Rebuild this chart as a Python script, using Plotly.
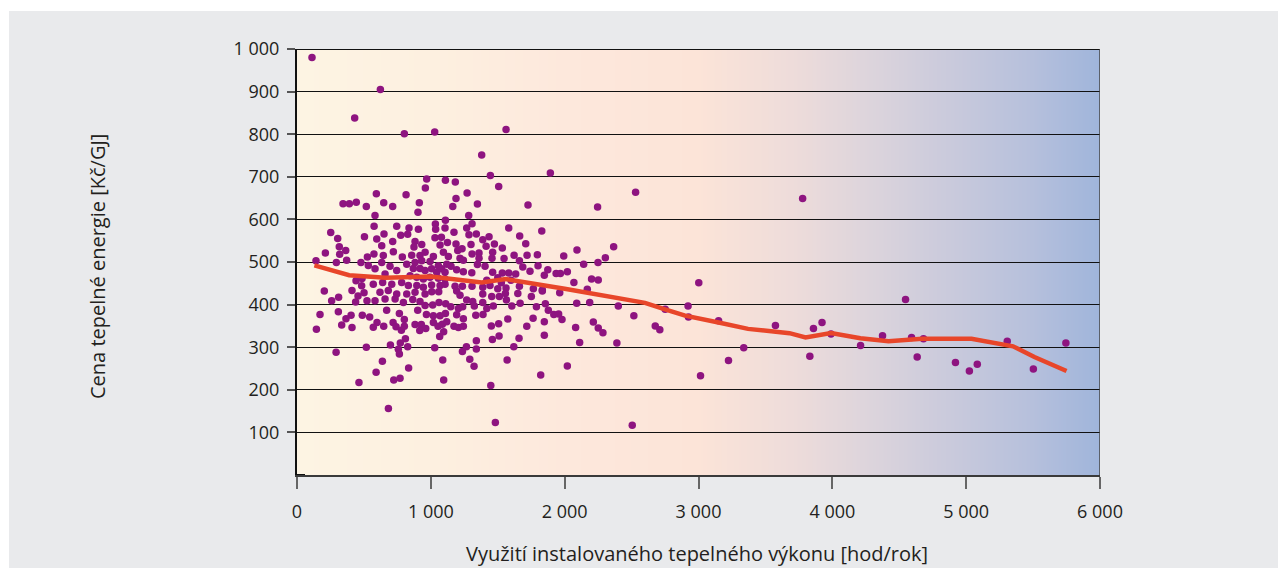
import base64, struct, zlib
import plotly.graph_objects as go

# ---------------- data ----------------
x_points = [
    112, 623, 431, 802, 1029,
    1562, 1380, 1445, 1893, 1109, 1183, 1507, 1271, 1188, 1348, 1164, 1726, 1283, 1109, 1034, 1308, 1036, 1106, 1268, 1582,
    1829, 1173, 1285, 1340, 1388, 1435, 1664, 1188, 1300, 1413, 1475, 1534, 1709, 1201, 1233, 1308, 1360, 1462, 1622, 1719,
    1796, 1218, 1243, 1360, 1457, 1547, 1662, 1151, 1348, 1405, 1687, 1801, 1741, 1874, 1848, 1936, 1582, 1634, 1534, 1462,
    1306, 1243, 1193, 1500, 1418, 1527, 1599, 1662, 1766, 1833, 1181, 1236, 1308, 1388, 1442, 1500, 1562,
    1007, 1059, 1193, 1388, 1455, 1512, 1557, 1650, 1751, 1833, 1218, 1268, 1313, 1388, 1565, 1014, 1061, 1111, 1149, 1206,
    1238, 1325, 1467, 1605, 1667, 1789, 1856, 1418, 1878, 1919, 1019, 1069, 1109, 1193, 1243, 1336, 1390, 1575, 1764, 1848,
    1019, 1054, 1086, 1119, 1173, 1206, 1243, 1452, 1507, 1717, 1096, 1066, 1340, 1460, 1510, 1659, 1848, 1029, 1266, 1340,
    1236, 1620, 1089, 1291, 1570, 1323, 1821, 1096, 1448, 1482,
    969, 959, 593, 815, 344, 391, 443, 648, 518, 715, 914, 904, 583, 576, 745, 837, 907,
    252, 304, 504, 316, 364, 319, 212, 142, 371, 526, 294, 478, 533, 441, 486, 204, 483, 411, 456, 501, 311, 259, 438, 523,
    650, 596, 633, 715, 775, 827, 882, 874, 932, 1031, 1079, 1069, 1124, 575, 645, 720, 787, 857, 919, 957, 1019, 1094, 1131,
    633, 695, 820, 882, 932, 994, 1056, 1119, 583, 658, 745, 869, 919, 957, 1006, 1044, 1081, 1106, 845, 895, 944, 994, 1056,
    1106, 570, 640, 708, 782, 832, 895, 944, 1006, 1069, 1106, 620, 682, 745, 820, 882, 957, 583, 658, 733, 795, 865, 919, 957, 670,
    172, 309, 404, 488, 366, 334, 411, 145, 543, 598, 570, 648, 718, 740, 780, 802, 802, 765, 902, 882, 929, 917, 962, 967,
    810, 772, 292, 518, 698, 757, 765, 827, 638, 591, 834, 463, 723, 770, 683,
    2530, 2246, 1993, 2092, 2366, 2304, 2249, 2142, 1968, 2020, 2069, 2201, 2251, 2169, 1963, 3002, 2090, 2187, 2401, 2751,
    2922, 2925, 1955, 1980, 2214, 2082, 2251, 2286, 2517, 2677, 2711, 2112, 2390, 2020, 3015, 2505,
    3778, 3150, 3224, 3338, 3575, 3859, 3923, 3832, 3990, 4211, 4375, 4547, 4592, 4634, 4681, 4920, 5024, 5083, 5307, 5502, 5745,
]
y_points = [
    980, 905, 838, 801, 805,
    811, 751, 703, 709, 692, 688, 677, 662, 649, 636, 630, 634, 609, 598, 589, 590, 577, 580, 580, 580,
    573, 570, 564, 566, 552, 559, 561, 542, 541, 537, 542, 533, 543, 527, 531, 519, 521, 523, 516, 516,
    517, 509, 504, 509, 509, 508, 503, 490, 494, 490, 488, 491, 478, 482, 469, 473, 474, 472, 474, 476,
    475, 477, 482, 463, 457, 451, 457, 443, 437, 434, 443, 443, 443, 441, 445, 437, 439,
    430, 430, 432, 425, 419, 419, 426, 426, 419, 432, 422, 411, 407, 405, 411, 399, 405, 402, 395, 391,
    395, 397, 397, 397, 403, 395, 402, 391, 387, 377, 374, 374, 379, 376, 367, 375, 377, 366, 368, 360,
    358, 349, 354, 360, 349, 346, 349, 350, 355, 349, 336, 325, 315, 318, 326, 321, 328, 299, 301, 296,
    290, 301, 270, 272, 270, 255, 235, 223, 210, 123,
    695, 674, 660, 658, 637, 637, 640, 639, 630, 630, 639, 617, 609, 584, 584, 580, 577,
    569, 555, 559, 536, 527, 518, 521, 503, 504, 512, 499, 499, 492, 456, 461, 432, 444, 433, 420, 428, 417, 409, 406, 409,
    566, 554, 538, 548, 563, 565, 548, 535, 541, 557, 558, 540, 546, 519, 515, 524, 512, 516, 515, 523, 513, 523, 513,
    499, 490, 495, 499, 503, 501, 491, 495, 484, 472, 480, 485, 485, 480, 484, 476, 484, 476, 468, 464, 460, 464, 462,
    460, 448, 452, 448, 452, 445, 445, 441, 446, 445, 448, 429, 433, 425, 425, 429, 425, 409, 413, 413, 405, 412, 407, 398, 387,
    377, 383, 375, 375, 367, 352, 346, 342, 371, 358, 347, 349, 358, 348, 340, 349, 365, 379, 387, 353, 353, 339, 344, 377,
    320, 310, 288, 300, 305, 295, 284, 301, 267, 241, 251, 217, 223, 227, 156,
    664, 629, 514, 528, 536, 510, 499, 495, 473, 477, 452, 460, 458, 436, 428, 451, 403, 405, 397, 389,
    397, 371, 378, 365, 359, 346, 345, 334, 374, 350, 341, 311, 310, 256, 233, 117,
    649, 362, 269, 299, 351, 344, 358, 279, 331, 304, 327, 412, 323, 277, 320, 264, 244, 260, 314, 249, 310,
]

trend_x = [130, 390, 660, 1000, 1380, 1560, 2000, 2600, 2750, 2900, 3150, 3370, 3680, 3800, 3990,
           4210, 4420, 4670, 5040, 5350, 5510, 5750]
trend_y = [492, 469, 463, 466, 452, 460, 437, 404, 389, 374, 358, 343, 333, 323, 333,
           321, 314, 320, 320, 302, 277, 244]

x_tick_vals = [0, 1000, 2000, 3000, 4000, 5000, 6000]
x_tick_text = ["0", "1 000", "2 000", "3 000", "4 000", "5 000", "6 000"]
y_tick_vals = [100, 200, 300, 400, 500, 600, 700, 800, 900, 1000]
y_tick_text = ["100", "200", "300", "400", "500", "600", "700", "800", "900", "1 000"]

x_title = "Využití instalovaného tepelného výkonu [hod/rok]"
y_title = "Cena tepelné energie [Kč/GJ]"

# background gradient stops (x value, rgb)
grad_stops = [
    (0, (253, 244, 227)), (1000, (253, 240, 224)), (2000, (253, 232, 220)),
    (3000, (252, 228, 216)), (3700, (238, 220, 218)), (4300, (220, 212, 220)),
    (5000, (198, 200, 220)), (5500, (182, 192, 220)), (6000, (160, 181, 219)),
]

# ---------------- gradient image ----------------
def make_png(width):
    row = bytearray()
    for i in range(width):
        xv = 6000 * i / (width - 1)
        for k in range(len(grad_stops) - 1):
            x0, c0 = grad_stops[k]
            x1, c1 = grad_stops[k + 1]
            if x0 <= xv <= x1:
                t = (xv - x0) / (x1 - x0)
                row += bytes(int(round(c0[j] + (c1[j] - c0[j]) * t)) for j in range(3))
                break
    raw = b"\x00" + bytes(row)

    def chunk(tag, data):
        c = struct.pack(">I", len(data)) + tag + data
        return c + struct.pack(">I", zlib.crc32(tag + data) & 0xFFFFFFFF)

    png = b"\x89PNG\r\n\x1a\n"
    png += chunk(b"IHDR", struct.pack(">IIBBBBB", width, 1, 8, 2, 0, 0, 0))
    png += chunk(b"IDAT", zlib.compress(raw, 9))
    png += chunk(b"IEND", b"")
    return "data:image/png;base64," + base64.b64encode(png).decode()

grad_src = make_png(600)

FONT = "Open Sans"
TXT = "#231f20"

fig = go.Figure()
fig.add_trace(go.Scatter(
    x=x_points, y=y_points, mode="markers",
    marker=dict(size=7.5, color="#8e1480", line=dict(width=0)),
    hoverinfo="x+y", showlegend=False,
))
fig.add_trace(go.Scatter(
    x=trend_x, y=trend_y, mode="lines",
    line=dict(color="#e8462a", width=4.5),
    showlegend=False,
))

# page body has an 8px margin; figure is 1279x572 so it fits the window
OFF = 8
FW, FH = 1287 - OFF, 580 - OFF
# plot area on screen: x 297..1100 px, y 49..475 px
L, R = 297 - OFF, FW - (1100 - OFF)
T, B = 49 - OFF, FH - (475 - OFF)
pw, ph = FW - L - R, FH - T - B

def px_to_paper_x(px):
    return (px - OFF - L) / pw

def py_to_paper_y(py):
    return (FH - B - (py - OFF)) / ph

shapes = [
    dict(type="rect", xref="paper", yref="paper",
         x0=px_to_paper_x(9), x1=px_to_paper_x(1278),
         y0=py_to_paper_y(568), y1=py_to_paper_y(11),
         fillcolor="#e9eaec", line=dict(width=0), layer="below"),
    dict(type="line", xref="x", yref="y", x0=0, x1=6000, y0=1000, y1=1000,
         line=dict(color="#111111", width=2), layer="above"),
    dict(type="line", xref="x", yref="y", x0=6000, x1=6000, y0=0, y1=1000,
         line=dict(color="#444444", width=1.5), layer="above"),
    dict(type="line", xref="x", yref="y", x0=0, x1=60, y0=0, y1=0,
         line=dict(color="#111111", width=2), layer="above"),
]

fig.update_layout(
    width=FW, height=FH,
    margin=dict(l=L, r=R, t=T, b=B, pad=0),
    paper_bgcolor="white",
    plot_bgcolor="rgba(0,0,0,0)",
    font=dict(family=FONT, size=18, color=TXT),
    images=[dict(source=grad_src, xref="x", yref="y", x=0, y=1000,
                 sizex=6000, sizey=1000, sizing="stretch",
                 xanchor="left", yanchor="top", layer="below")],
    shapes=shapes,
    xaxis=dict(
        range=[0, 6000], tickvals=x_tick_vals, ticktext=x_tick_text,
        showgrid=False, zeroline=False,
        showline=True, linecolor="#3a3a3a", linewidth=2,
        ticks="outside", ticklen=12, tickwidth=1.5, tickcolor="#666666",
        ticklabelstandoff=7,
        tickfont=dict(family=FONT, size=18, color=TXT),
        fixedrange=True,
    ),
    yaxis=dict(
        range=[0, 1000], tickvals=y_tick_vals, ticktext=y_tick_text,
        showgrid=True, gridcolor="#111111", gridwidth=1,
        zeroline=False,
        showline=True, linecolor="#111111", linewidth=2,
        ticks="outside", ticklen=8, tickwidth=1.5, tickcolor="#555555",
        ticklabelstandoff=4,
        tickfont=dict(family=FONT, size=18, color=TXT),
        fixedrange=True,
    ),
    annotations=[
        dict(text=x_title, xref="paper", yref="paper",
             x=px_to_paper_x(697), y=py_to_paper_y(553),
             xanchor="center", yanchor="middle", showarrow=False,
             font=dict(family=FONT, size=20, color=TXT)),
        dict(text=y_title, xref="paper", yref="paper",
             x=px_to_paper_x(97), y=py_to_paper_y(267),
             xanchor="center", yanchor="middle", showarrow=False, textangle=-90,
             font=dict(family=FONT, size=20, color=TXT)),
    ],
)

fig.write_html("out.html")
